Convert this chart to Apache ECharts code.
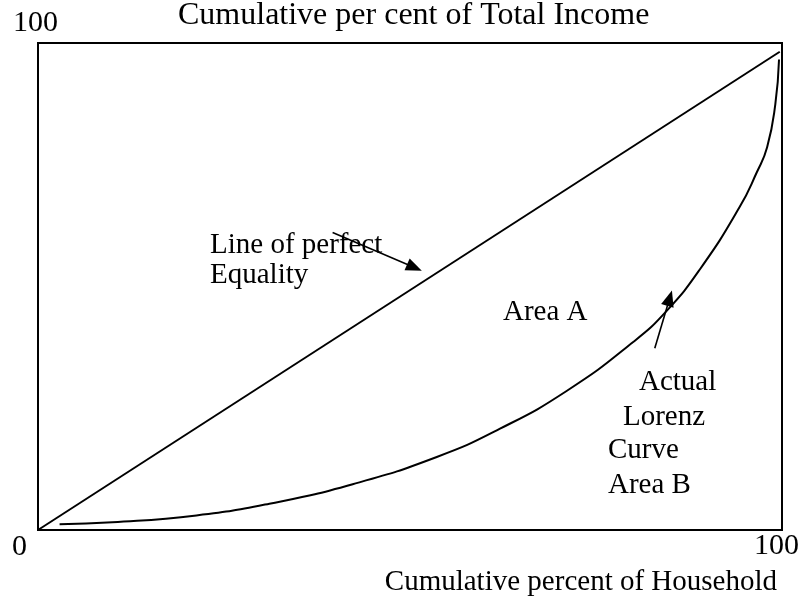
<!DOCTYPE html>
<html>
<head>
<meta charset="utf-8">
<script src="https://cdn.jsdelivr.net/npm/echarts@6/dist/echarts.min.js"></script>
<style>
  html, body { margin: 0; padding: 0; background: #fff; }
  #chart { width: 801px; height: 603px; }
</style>
</head>
<body>
<div id="chart"></div>
<script>
// Line of perfect equality: cumulative % of households vs cumulative % of income
const equalityX = [0, 99.7];
const equalityY = [0, 98.2];

// Actual Lorenz curve
const lorenzX = [2.9, 10.0, 21.3, 31.1, 42.3, 53.6, 62.1, 71.1, 80.0, 84.5, 89.0, 94.3, 96.6, 98.0, 99.1, 99.6];
const lorenzY = [1.2, 1.6, 3.0, 5.4, 9.4, 15.0, 20.8, 28.6, 38.6, 45.0, 53.6, 66.3, 73.4, 78.6, 87.4, 96.6];

// Pointer arrows for the two labels: [fromX, fromY, toX, toY]
const equalityPointer = [39.6, 61.1, 50.6, 53.9];
const lorenzPointer = [82.9, 37.3, 84.9, 47.6];

// Axis end labels
const xTickLabels = ['0', '100'];
const yTickLabels = ['100'];

const yTitle = 'Cumulative per cent of Total Income';
const xTitle = 'Cumulative percent of Household';

const SERIF = '"Liberation Serif", "Times New Roman", serif';

const zip = (xs, ys) => xs.map((x, i) => [x, ys[i]]);

// text placed by its left (or right) edge and alphabetic baseline
function txt(text, x, baseline, size, align) {
  return {
    type: 'text',
    silent: true,
    style: {
      text: text,
      x: x,
      y: baseline - Math.round(size * 0.34),
      font: size + 'px ' + SERIF,
      fill: '#000',
      align: align || 'left',
      verticalAlign: 'middle'
    }
  };
}

const chart = echarts.init(document.getElementById('chart'), null, { renderer: 'canvas' });

chart.setOption({
  animation: false,
  backgroundColor: '#fff',
  grid: {
    left: 38, right: 19, top: 43, bottom: 73,
    show: true, borderColor: '#000', borderWidth: 2, backgroundColor: 'transparent'
  },
  xAxis: {
    type: 'value', min: 0, max: 100,
    axisLine: { show: false }, axisTick: { show: false },
    axisLabel: { show: false }, splitLine: { show: false }
  },
  yAxis: {
    type: 'value', min: 0, max: 100,
    axisLine: { show: false }, axisTick: { show: false },
    axisLabel: { show: false }, splitLine: { show: false }
  },
  series: [
    {
      name: 'Line of perfect Equality',
      type: 'line',
      data: zip(equalityX, equalityY),
      symbol: 'none',
      lineStyle: { color: '#000', width: 2 }
    },
    {
      name: 'Actual Lorenz Curve',
      type: 'line',
      data: zip(lorenzX, lorenzY),
      symbol: 'none',
      smooth: 0.5,
      lineStyle: { color: '#000', width: 2 }
    },
    {
      name: 'pointers',
      type: 'line',
      data: [],
      markLine: {
        silent: true,
        symbol: ['none', 'triangle'],
        symbolSize: [13, 16],
        label: { show: false },
        lineStyle: { color: '#000', width: 1.6, type: 'solid' },
        emphasis: { disabled: true },
        data: [
          [{ coord: [equalityPointer[0], equalityPointer[1]] }, { coord: [equalityPointer[2], equalityPointer[3]] }],
          [{ coord: [lorenzPointer[0], lorenzPointer[1]] }, { coord: [lorenzPointer[2], lorenzPointer[3]] }]
        ]
      }
    }
  ],
  graphic: [
    txt(yTickLabels[0], 13, 33, 30),
    txt(yTitle, 178, 27, 32),
    txt(xTickLabels[0], 12, 557, 30),
    txt(xTickLabels[1], 754, 556, 30),
    txt(xTitle, 777, 592, 29, 'right'),
    txt('Line of perfect', 210, 255, 29),
    txt('Equality', 210, 285, 29),
    txt('Area A', 503, 322, 29),
    txt('Actual', 639, 392, 29),
    txt('Lorenz', 623, 427, 29),
    txt('Curve', 608, 460, 29),
    txt('Area B', 608, 495, 29)
  ]
});
</script>
</body>
</html>
